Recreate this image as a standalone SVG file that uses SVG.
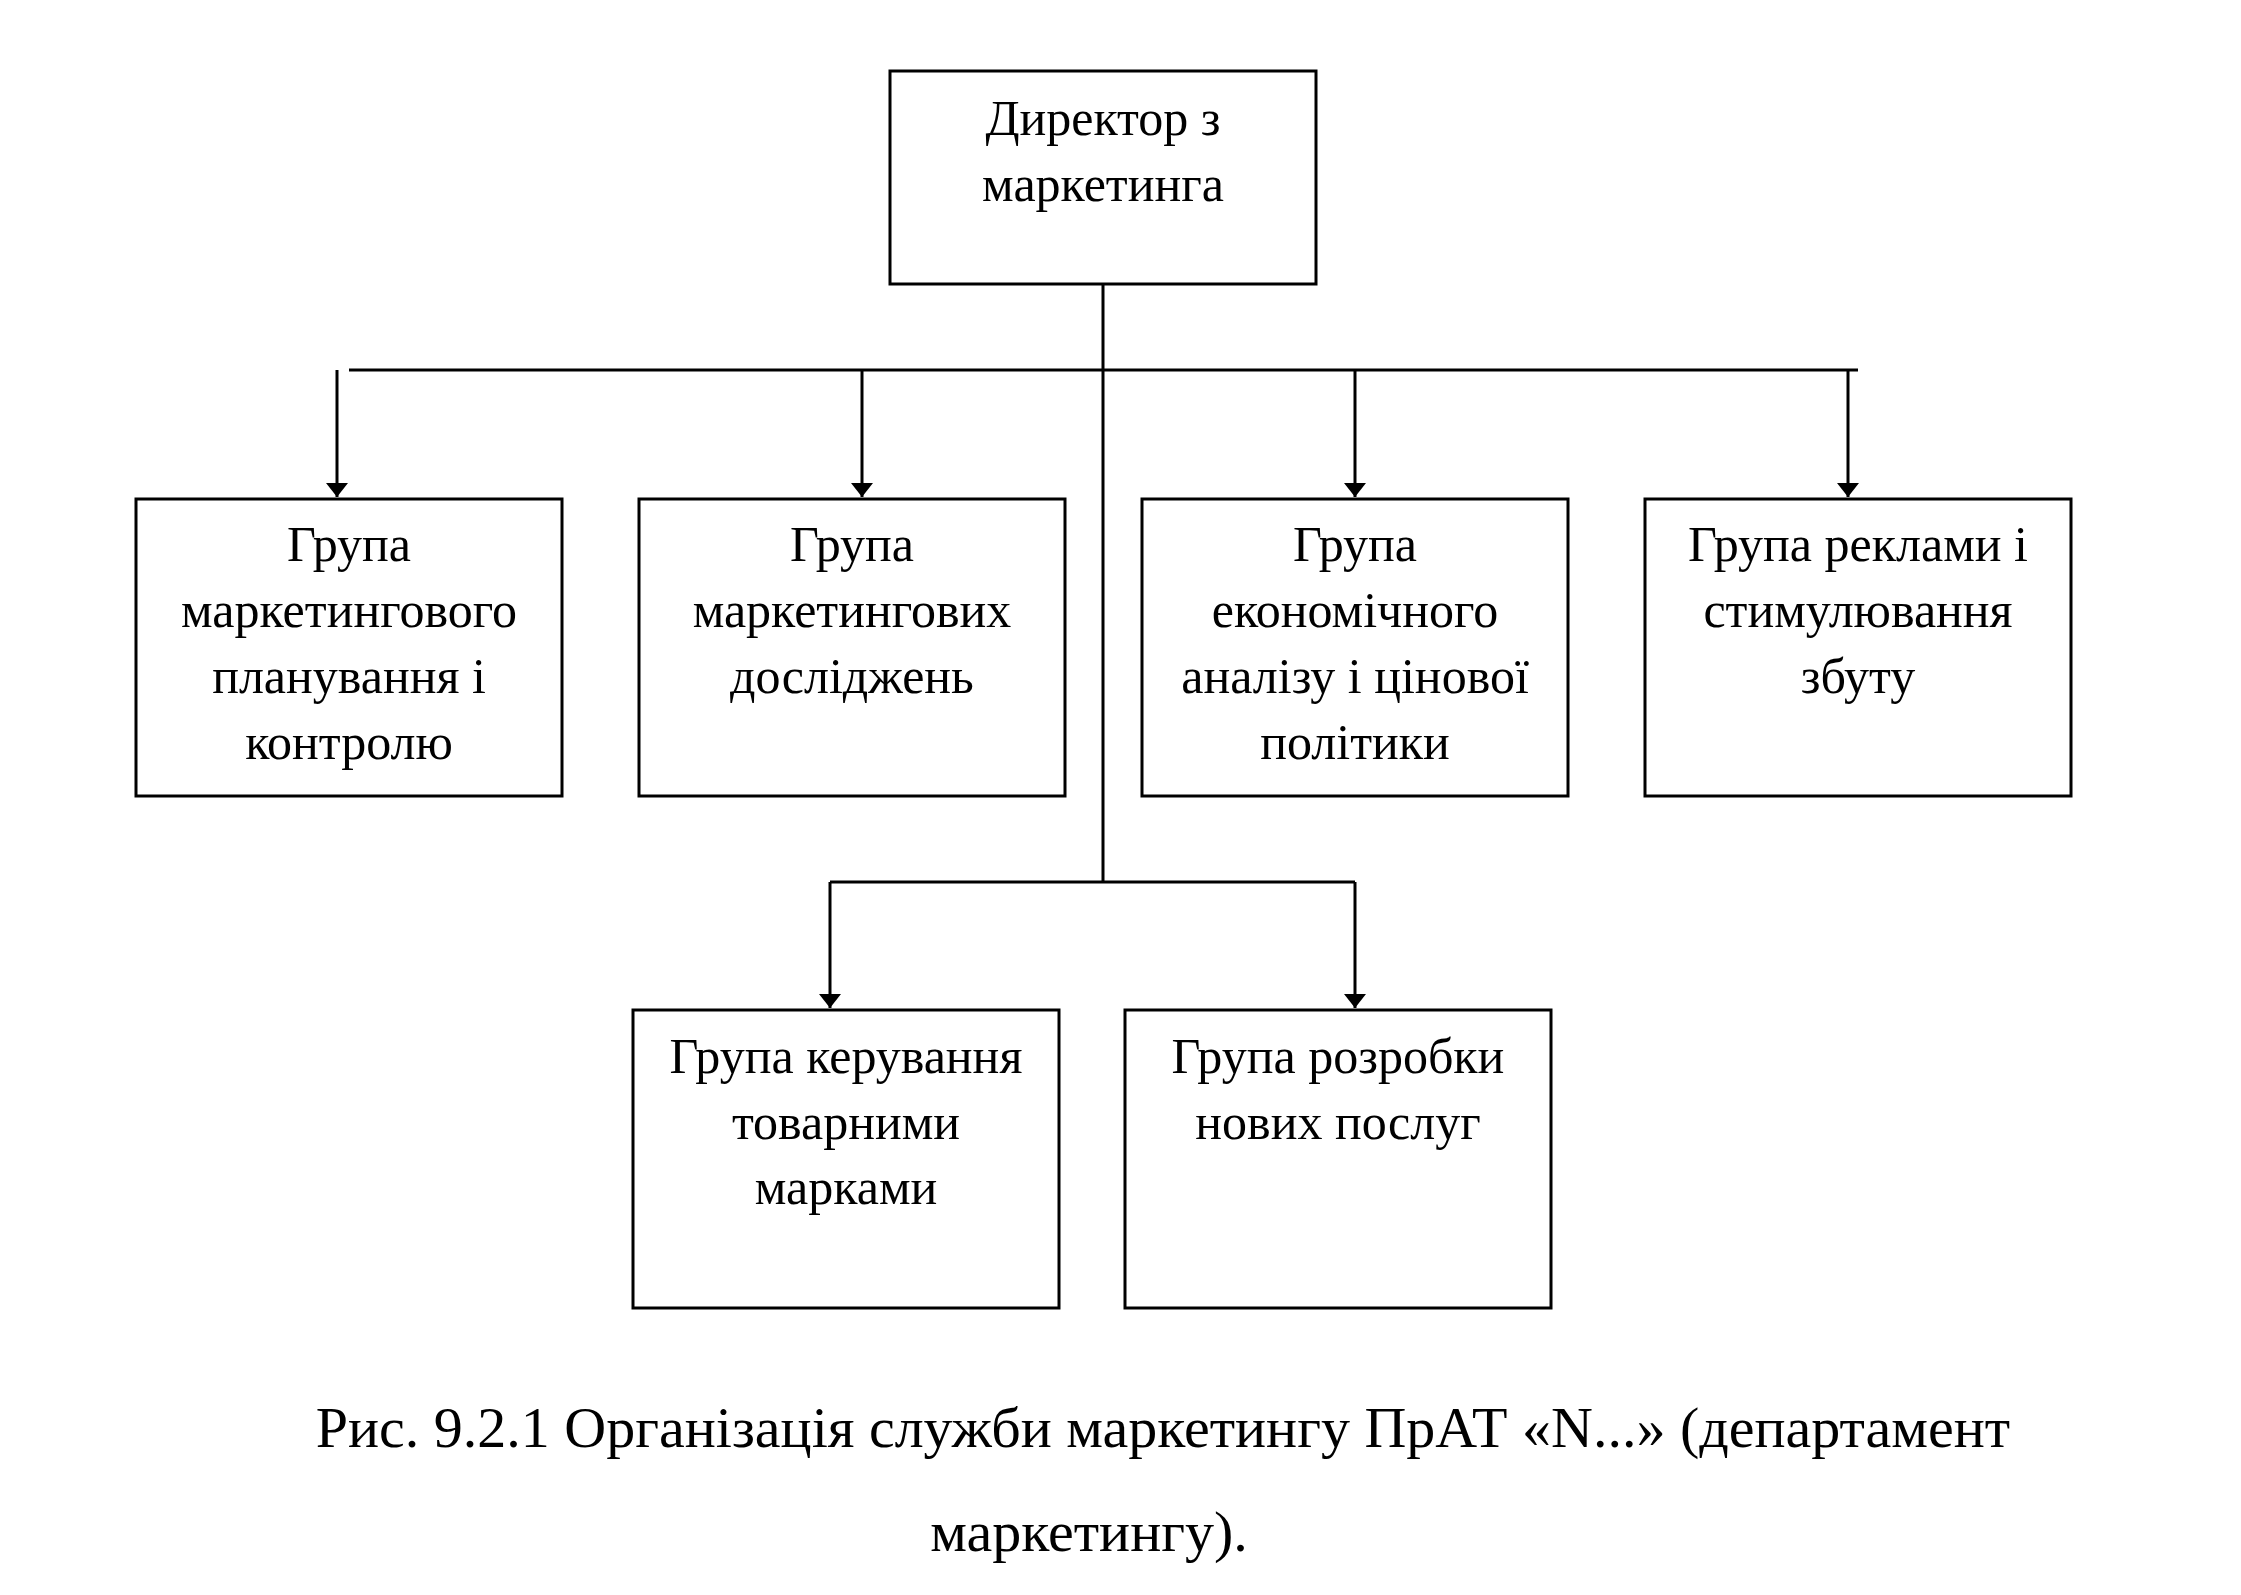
<svg xmlns="http://www.w3.org/2000/svg" width="2241" height="1595" viewBox="0 0 2241 1595">
<style>
rect{fill:#fff;stroke:#000;stroke-width:3}
text{font-family:"Liberation Serif","Times New Roman",serif;font-size:50px;fill:#000;text-anchor:middle}
.c{font-size:58px}
#connectors line{stroke:#000;stroke-width:3}
</style>
<defs><marker id="ah" viewBox="0 0 14 22" refX="14" refY="11" markerWidth="14" markerHeight="22" markerUnits="userSpaceOnUse" orient="auto"><path d="M0,0L14,11L0,22z" fill="#000" transform="rotate(0)"/></marker></defs>
<rect width="2241" height="1595" style="stroke:none"/>
<g id="connectors">
<line x1="1103" y1="284" x2="1103" y2="882"/>
<line x1="349" y1="370" x2="1858" y2="370"/>
<line x1="337" y1="370" x2="337" y2="497" marker-end="url(#ah)"/>
<line x1="862" y1="370" x2="862" y2="497" marker-end="url(#ah)"/>
<line x1="1355" y1="370" x2="1355" y2="497" marker-end="url(#ah)"/>
<line x1="1848" y1="370" x2="1848" y2="497" marker-end="url(#ah)"/>
<line x1="830" y1="882" x2="1355" y2="882"/>
<line x1="830" y1="882" x2="830" y2="1008" marker-end="url(#ah)"/>
<line x1="1355" y1="882" x2="1355" y2="1008" marker-end="url(#ah)"/>
</g>
<g id="director"><rect x="890" y="71" width="426" height="213"/><text x="1103" y="135">Директор з</text><text x="1103" y="201">маркетинга</text></g>
<g id="g1"><rect x="136" y="499" width="426" height="297"/><text x="349" y="561">Група</text><text x="349" y="627">маркетингового</text><text x="349" y="693">планування і</text><text x="349" y="759">контролю</text></g>
<g id="g2"><rect x="639" y="499" width="426" height="297"/><text x="852" y="561">Група</text><text x="852" y="627">маркетингових</text><text x="852" y="693">досліджень</text></g>
<g id="g3"><rect x="1142" y="499" width="426" height="297"/><text x="1355" y="561">Група</text><text x="1355" y="627">економічного</text><text x="1355" y="693">аналізу і цінової</text><text x="1355" y="759">політики</text></g>
<g id="g4"><rect x="1645" y="499" width="426" height="297"/><text x="1858" y="561">Група реклами і</text><text x="1858" y="627">стимулювання</text><text x="1858" y="693">збуту</text></g>
<g id="g5"><rect x="633" y="1010" width="426" height="298"/><text x="846" y="1073">Група керування</text><text x="846" y="1139">товарними</text><text x="846" y="1204">марками</text></g>
<g id="g6"><rect x="1125" y="1010" width="426" height="298"/><text x="1338" y="1073">Група розробки</text><text x="1338" y="1139">нових послуг</text></g>
<text class="c" x="1163" y="1447">Рис. 9.2.1 Організація служби маркетингу ПрАТ «N...» (департамент</text>
<text class="c" x="1089" y="1551">маркетингу).</text>
</svg>
